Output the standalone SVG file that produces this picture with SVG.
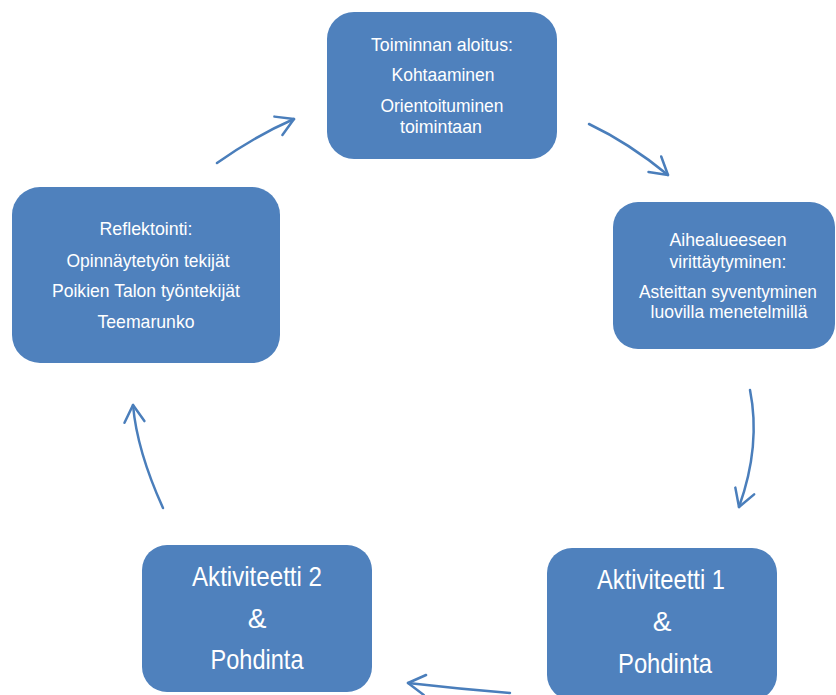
<svg xmlns="http://www.w3.org/2000/svg" width="836" height="695" viewBox="0 0 836 695">
<style>
.box{fill:#4F81BD;}
.t{font-family:"Liberation Sans",Arial,sans-serif;font-size:19px;fill:#ffffff;text-anchor:middle;}
.big{font-size:28px;}
.conn{fill:none;stroke:#4A7EBB;stroke-width:2.5;stroke-linecap:round;marker-end:url(#ah);}
</style>
<defs>
<marker id="ah" markerUnits="userSpaceOnUse" markerWidth="30" markerHeight="30" refX="0" refY="0" orient="auto" overflow="visible">
<path d="M -17 -10 L 0 0 L -17 10" fill="none" stroke="#4A7EBB" stroke-width="2.5" stroke-linecap="round" stroke-linejoin="round"/>
</marker>
</defs>
<rect width="836" height="695" fill="#ffffff"/>
<g id="connectors">
<path class="conn" d="M 217 163 Q 255 136 294 119"/>
<path class="conn" d="M 589 124 Q 629 143 668 175"/>
<path class="conn" d="M 750 390 C 758 430 753 468 739 507"/>
<path class="conn" d="M 510 693 Q 460 689 408 683"/>
<path class="conn" d="M 163 508 C 148 475 136 440 133 405"/>
</g>
<g id="node-aloitus">
<rect class="box" x="327" y="12" width="230" height="147" rx="27"/>
<text class="t" x="442" y="51" textLength="142" lengthAdjust="spacingAndGlyphs">Toiminnan aloitus:</text>
<text class="t" x="443" y="81" textLength="103" lengthAdjust="spacingAndGlyphs">Kohtaaminen</text>
<text class="t" x="442" y="112" textLength="123" lengthAdjust="spacingAndGlyphs">Orientoituminen</text>
<text class="t" x="441" y="133" textLength="82" lengthAdjust="spacingAndGlyphs">toimintaan</text>
</g>
<g id="node-aihealue">
<rect class="box" x="613" y="202" width="222" height="147" rx="25"/>
<text class="t" x="728" y="246" textLength="117" lengthAdjust="spacingAndGlyphs">Aihealueeseen</text>
<text class="t" x="728" y="268" textLength="117" lengthAdjust="spacingAndGlyphs">virittäytyminen:</text>
<text class="t" x="728" y="298" textLength="178" lengthAdjust="spacingAndGlyphs">Asteittan syventyminen</text>
<text class="t" x="729" y="318" textLength="157" lengthAdjust="spacingAndGlyphs">luovilla menetelmillä</text>
</g>
<g id="node-aktiviteetti1">
<rect class="box" x="547" y="548" width="230" height="152" rx="25"/>
<text class="t big" x="661" y="589" textLength="128" lengthAdjust="spacingAndGlyphs">Aktiviteetti 1</text>
<text class="t big" x="662" y="631">&amp;</text>
<text class="t big" x="665" y="673" textLength="94" lengthAdjust="spacingAndGlyphs">Pohdinta</text>
</g>
<g id="node-aktiviteetti2">
<rect class="box" x="142" y="545" width="230" height="147" rx="25"/>
<text class="t big" x="257" y="586" textLength="130" lengthAdjust="spacingAndGlyphs">Aktiviteetti 2</text>
<text class="t big" x="257" y="628">&amp;</text>
<text class="t big" x="257" y="669" textLength="93" lengthAdjust="spacingAndGlyphs">Pohdinta</text>
</g>
<g id="node-reflektointi">
<rect class="box" x="12" y="187" width="268" height="176" rx="28"/>
<text class="t" x="146" y="235" textLength="93" lengthAdjust="spacingAndGlyphs">Reflektointi:</text>
<text class="t" x="148" y="267" textLength="163" lengthAdjust="spacingAndGlyphs">Opinnäytetyön tekijät</text>
<text class="t" x="146" y="297" textLength="188" lengthAdjust="spacingAndGlyphs">Poikien Talon työntekijät</text>
<text class="t" x="146" y="328" textLength="97" lengthAdjust="spacingAndGlyphs">Teemarunko</text>
</g>
</svg>
